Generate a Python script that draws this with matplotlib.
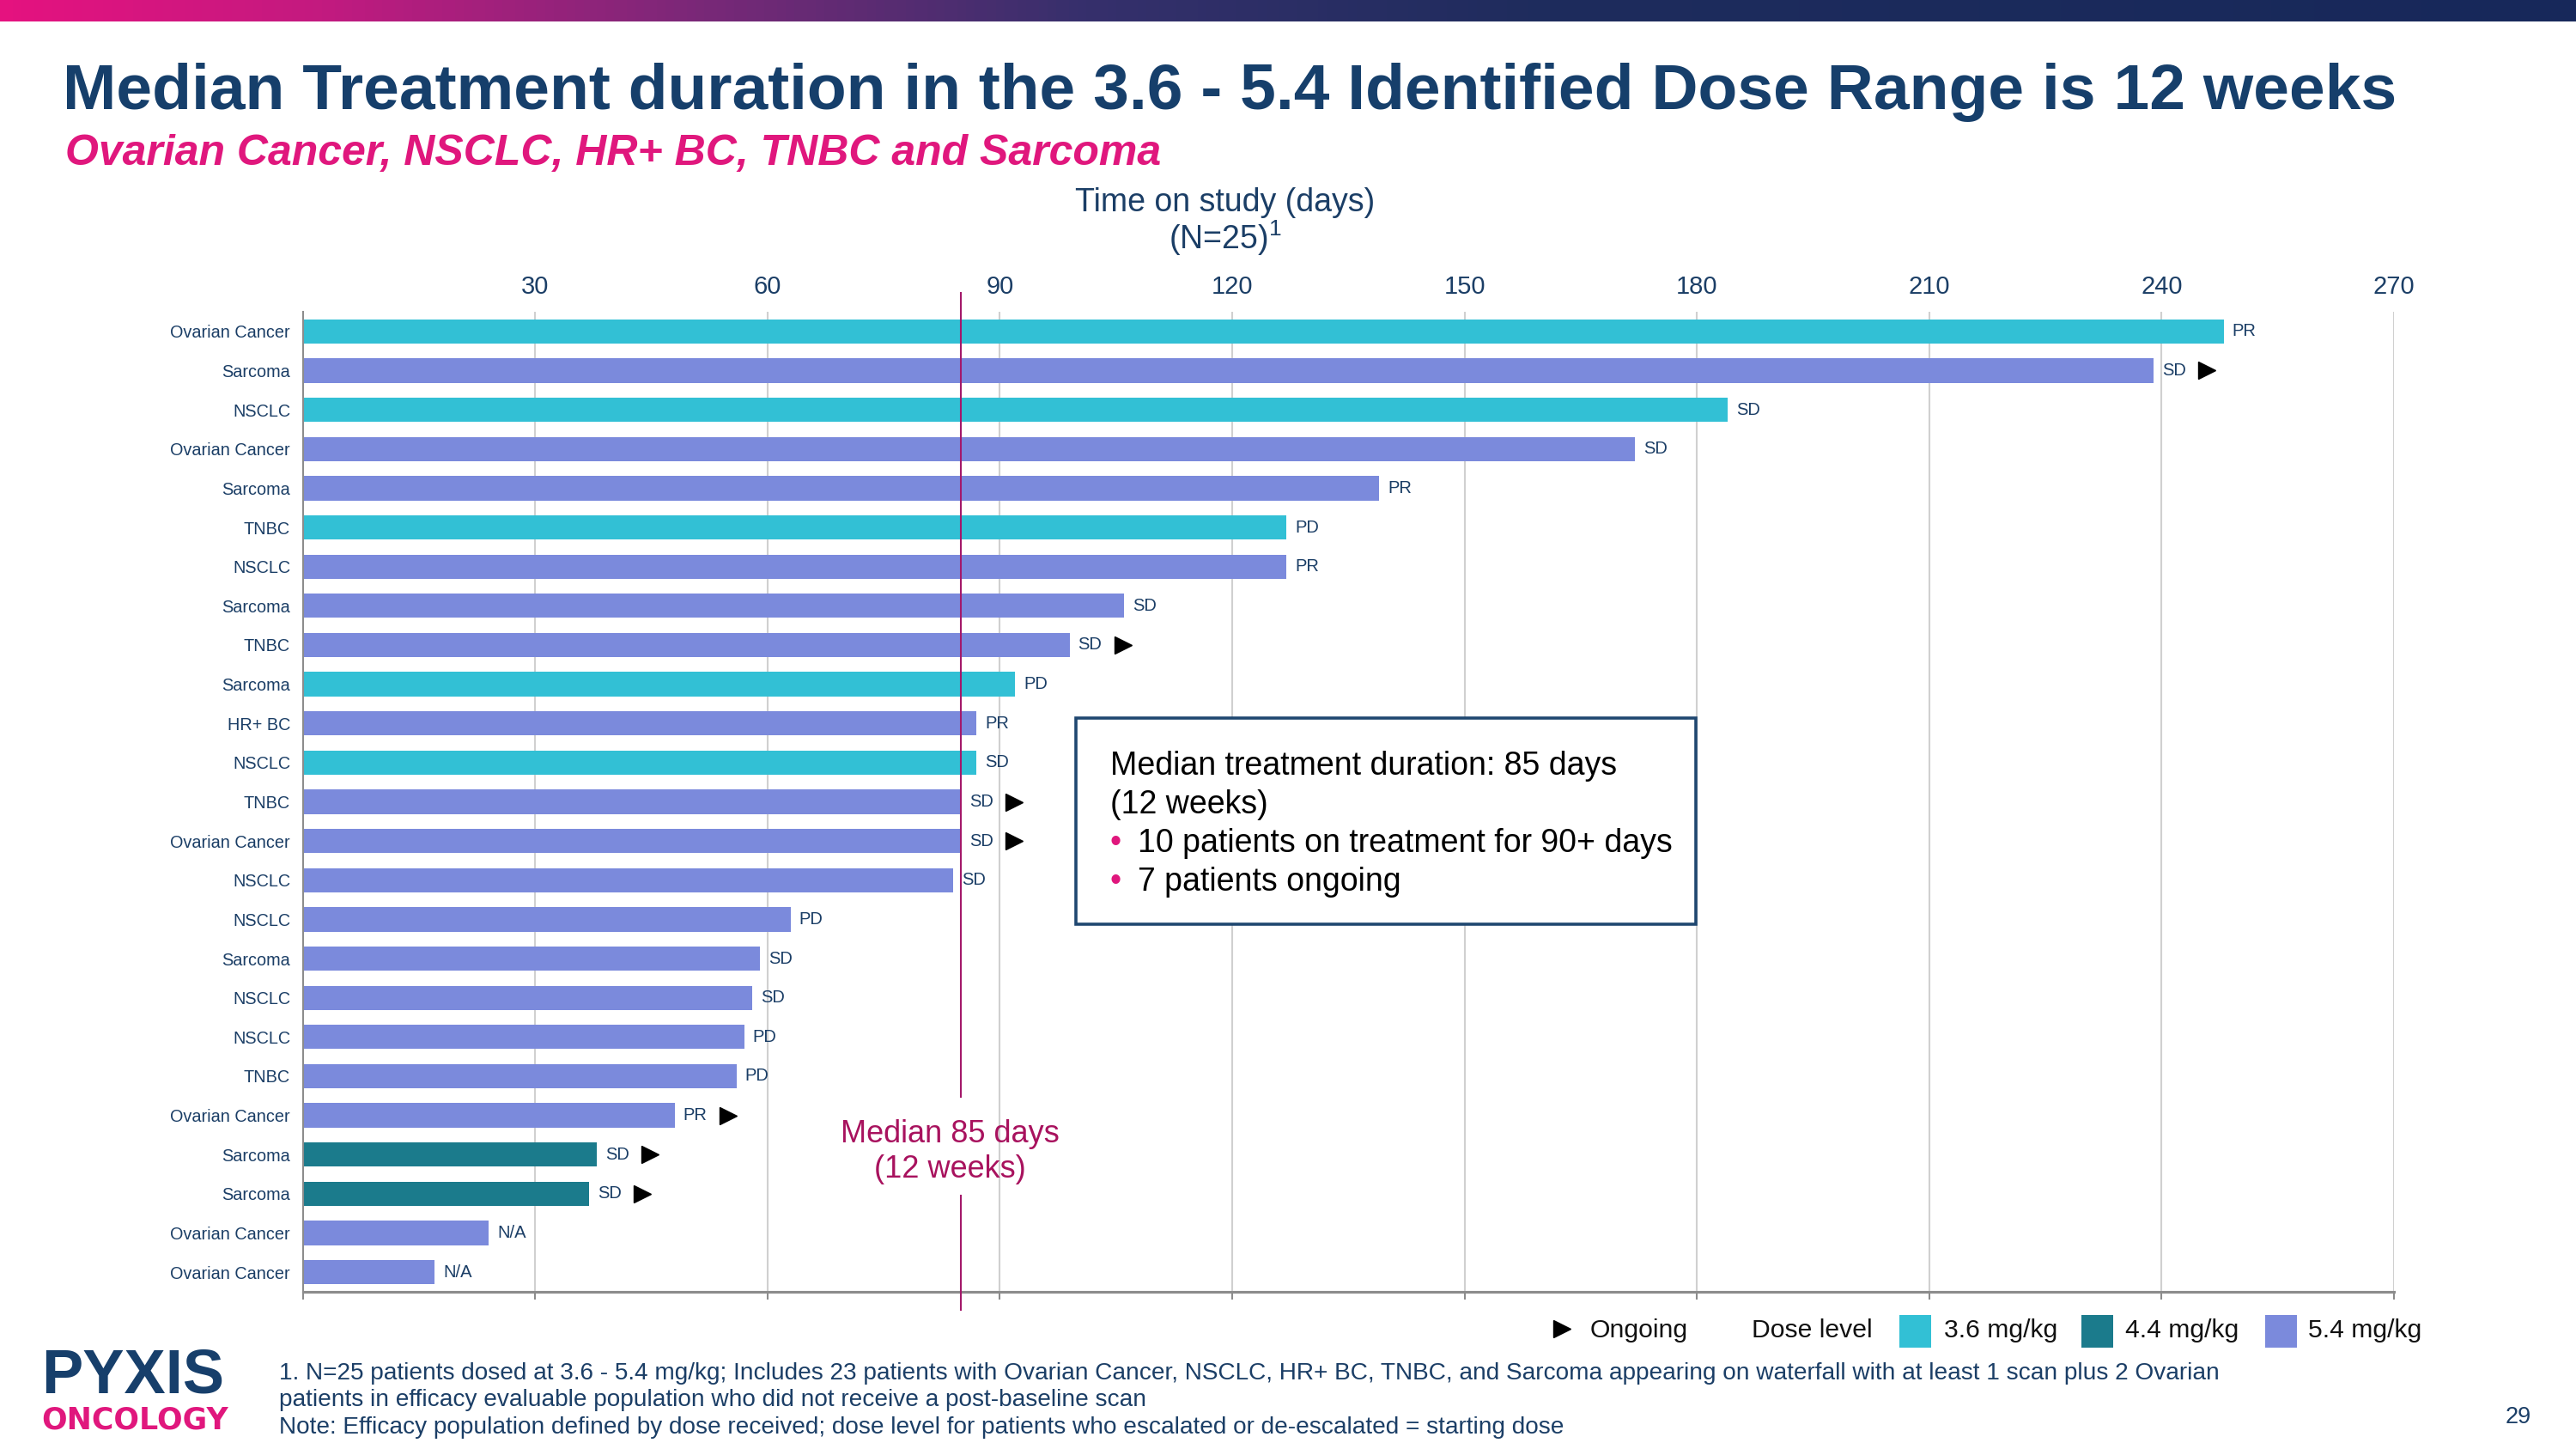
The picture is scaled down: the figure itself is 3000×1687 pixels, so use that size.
import numpy as np
import matplotlib
matplotlib.use("Agg")
import matplotlib.pyplot as plt
from matplotlib.colors import LinearSegmentedColormap
from matplotlib.patches import Rectangle
from matplotlib.lines import Line2D
import matplotlib.transforms as mtransforms

plt.rcParams['font.family'] = ['Liberation Sans', 'DejaVu Sans']
plt.rcParams['mathtext.fontset'] = 'custom'
plt.rcParams['mathtext.rm'] = 'Liberation Sans'

# ---------------- data ----------------
categories = ["Ovarian Cancer", "Sarcoma", "NSCLC", "Ovarian Cancer", "Sarcoma", "TNBC",
              "NSCLC", "Sarcoma", "TNBC", "Sarcoma", "HR+ BC", "NSCLC", "TNBC",
              "Ovarian Cancer", "NSCLC", "NSCLC", "Sarcoma", "NSCLC", "NSCLC", "TNBC",
              "Ovarian Cancer", "Sarcoma", "Sarcoma", "Ovarian Cancer", "Ovarian Cancer"]
days = [248, 239, 184, 172, 139, 127, 127, 106, 99, 92, 87, 87, 85, 85, 84,
        63, 59, 58, 57, 56, 48, 38, 37, 24, 17]
dose = [3.6, 5.4, 3.6, 5.4, 5.4, 3.6, 5.4, 5.4, 5.4, 3.6, 5.4, 3.6, 5.4, 5.4, 5.4,
        5.4, 5.4, 5.4, 5.4, 5.4, 5.4, 4.4, 4.4, 5.4, 5.4]
response = ["PR", "SD", "SD", "SD", "PR", "PD", "PR", "SD", "SD", "PD", "PR", "SD", "SD",
            "SD", "SD", "PD", "SD", "SD", "PD", "PD", "PR", "SD", "SD", "N/A", "N/A"]
ongoing = [False, True, False, False, False, False, False, False, True, False, False, False,
           True, True, False, False, False, False, False, False, True, True, True, False, False]
x_ticks = [30, 60, 90, 120, 150, 180, 210, 240, 270]
median_days = 85
dose_levels = [3.6, 4.4, 5.4]
dose_labels = ["3.6 mg/kg", "4.4 mg/kg", "5.4 mg/kg"]

# ---------------- style ----------------
NAVY = "#1B3E66"
TITLE = "#163F6B"
PINK = "#E0177D"
MED_LINE = "#A3186A"
MED_TXT = "#A8125E"
dose_colors = {3.6: "#32C0D5", 4.4: "#1B7B8C", 5.4: "#7B8ADC"}
GRID = "#D0D0D0"
SPINE = "#8C8C8C"

W, H = 3000, 1687
fig = plt.figure(figsize=(30, 16.87), dpi=100)
fig.patch.set_facecolor("white")


def fx(px):
    return px / W


def fy(py):
    return 1 - py / H


# ---------------- top banner ----------------
bax = fig.add_axes([0, fy(25), 1, 25 / H])
cmap = LinearSegmentedColormap.from_list(
    "banner", [(0.0, "#E5127F"), (0.12, "#C41A80"), (0.27, "#7A2878"),
               (0.42, "#36306C"), (0.6, "#1E2C5D"), (1.0, "#17285A")])
grad = np.linspace(0, 1, 600)[None, :]
bax.imshow(grad, aspect="auto", cmap=cmap, extent=[0, 1, 0, 1])
bax.set_axis_off()

# ---------------- main axes ----------------
ax = fig.add_axes([fx(352.6), fy(1504), (2788 - 352.6) / W, (1504 - 363) / H])
y = np.arange(len(days))
bar_colors = [dose_colors[d] for d in dose]
ax.barh(y, days, height=0.62, color=bar_colors, zorder=2)
ax.set_ylim(len(days) - 0.5, -0.5)
ax.set_xlim(0, 270)
ax.set_xticks(x_ticks)
ax.xaxis.tick_top()
ax.tick_params(axis="x", length=0, pad=11, labelsize=21, labelcolor=NAVY)
ax.set_yticks(y)
ax.set_yticklabels(categories)
ax.tick_params(axis="y", length=0, pad=10.5, labelsize=14.3, labelcolor=NAVY)
ax.grid(axis="x", color=GRID, lw=1.5, zorder=0)
ax.set_axisbelow(True)
for s in ["top", "right"]:
    ax.spines[s].set_visible(False)
ax.spines["left"].set_color(SPINE)
ax.spines["left"].set_linewidth(1.5)
ax.spines["bottom"].set_color(SPINE)
ax.spines["bottom"].set_linewidth(2.2)

sec = ax.secondary_xaxis("bottom")
sec.set_xticks(range(0, 271, 30))
sec.set_xticklabels([])
sec.tick_params(length=6.5, width=1.5, color=SPINE)
sec.spines["bottom"].set_color(SPINE)
sec.spines["bottom"].set_linewidth(2.2)

# response labels
for yi, d, r in zip(y, days, response):
    ax.annotate(r, (d, yi), xytext=(7.2, 0), textcoords="offset points",
                va="center", ha="left", fontsize=14.5, color=NAVY, zorder=4)

# ongoing markers
trans = mtransforms.offset_copy(ax.transData, fig=fig, x=44.6, y=0, units="points")
og_days = [d for d, o in zip(days, ongoing) if o]
og_y = [yi for yi, o in zip(y, ongoing) if o]
ax.plot(og_days, og_y, ls="none", marker=">", ms=14.5, color="black",
        transform=trans, clip_on=False, zorder=4)

# median line (broken around its label)
ax.plot([median_days, median_days], [-0.98, 19.53], color=MED_LINE, lw=1.5,
        clip_on=False, zorder=3)
ax.plot([median_days, median_days], [22.05, 24.96], color=MED_LINE, lw=1.5,
        clip_on=False, zorder=3)
ax.text(83.6, 20.93, "Median 85 days\n(12 weeks)", ha="center", va="center",
        fontsize=26, color=MED_TXT, linespacing=1.25, zorder=4)

# ---------------- annotation box ----------------
box = Rectangle((fx(1253), fy(1076)), (1975 - 1253) / W, (1076 - 836) / H,
                transform=fig.transFigure, fc="white", ec="#1F4770", lw=2.6, zorder=5)
fig.patches.append(box)
fig.text(fx(1293), fy(902), "Median treatment duration: 85 days", fontsize=27,
         color="black", va="baseline", zorder=6)
fig.text(fx(1293), fy(947), "(12 weeks)", fontsize=27, color="black",
         va="baseline", zorder=6)
for by, txt in [(992, "10 patients on treatment for 90+ days"), (1037, "7 patients ongoing")]:
    fig.text(fx(1293), fy(by), "\u2022", fontsize=27, color=PINK, va="baseline", zorder=6)
    fig.text(fx(1325), fy(by), txt, fontsize=27, color="black", va="baseline", zorder=6)

# ---------------- titles ----------------
fig.text(fx(73), fy(127), "Median Treatment duration in the 3.6 - 5.4 Identified Dose Range is 12 weeks",
         fontsize=54, fontweight="bold", color=TITLE, va="baseline")
fig.text(fx(76), fy(192), "Ovarian Cancer, NSCLC, HR+ BC, TNBC and Sarcoma",
         fontsize=36, fontweight="bold", fontstyle="italic", color=PINK, va="baseline")
fig.text(fx(1427), fy(246), "Time on study (days)", fontsize=27, color=NAVY,
         ha="center", va="baseline")
fig.text(fx(1427), fy(290), r"(N=25)$^{\mathrm{1}}$", fontsize=27, color=NAVY,
         ha="center", va="baseline")

# ---------------- legend ----------------
fig.add_artist(Line2D([fx(1819)], [fy(1547)], marker=">", ms=14, color="black",
                      ls="none", transform=fig.transFigure))
LEG_BASE = fy(1557)
fig.text(fx(1852), LEG_BASE, "Ongoing", fontsize=21.7, color="#111111", va="baseline")
fig.text(fx(2040), LEG_BASE, "Dose level", fontsize=21.7, color="#111111", va="baseline")
patch_x = [2212, 2424, 2638]
text_x = [2264, 2475, 2688]
for lvl, lab, px, tx in zip(dose_levels, dose_labels, patch_x, text_x):
    fig.patches.append(Rectangle((fx(px), fy(1569)), 37 / W, 38 / H,
                                 transform=fig.transFigure, fc=dose_colors[lvl], ec="none"))
    fig.text(fx(tx), LEG_BASE, lab, fontsize=21.7, color="#111111", va="baseline")

# ---------------- footnotes ----------------
foot = [
    (1606, "1. N=25 patients dosed at 3.6 - 5.4 mg/kg; Includes 23 patients with Ovarian Cancer, NSCLC, HR+ BC, TNBC, and Sarcoma appearing on waterfall with at least 1 scan plus 2 Ovarian"),
    (1637, "patients in efficacy evaluable population who did not receive a post-baseline scan"),
    (1669, "Note: Efficacy population defined by dose received; dose level for patients who escalated or de-escalated = starting dose"),
]
for by, txt in foot:
    fig.text(fx(325), fy(by), txt, fontsize=20.2, color=NAVY, va="baseline")

fig.text(fx(2933), fy(1657), "29", fontsize=19.5, color=NAVY, ha="center", va="baseline")

# ---------------- logo ----------------
fig.text(fx(48), fy(1621), "PYXIS", fontsize=52, fontweight="bold", color="#173F6B",
         va="baseline")
fig.text(fx(48), fy(1663), "ONCOLOGY", fontsize=25, fontweight="bold", color=PINK,
         va="baseline", family="DejaVu Sans")

fig.savefig("out.png", dpi=100)
